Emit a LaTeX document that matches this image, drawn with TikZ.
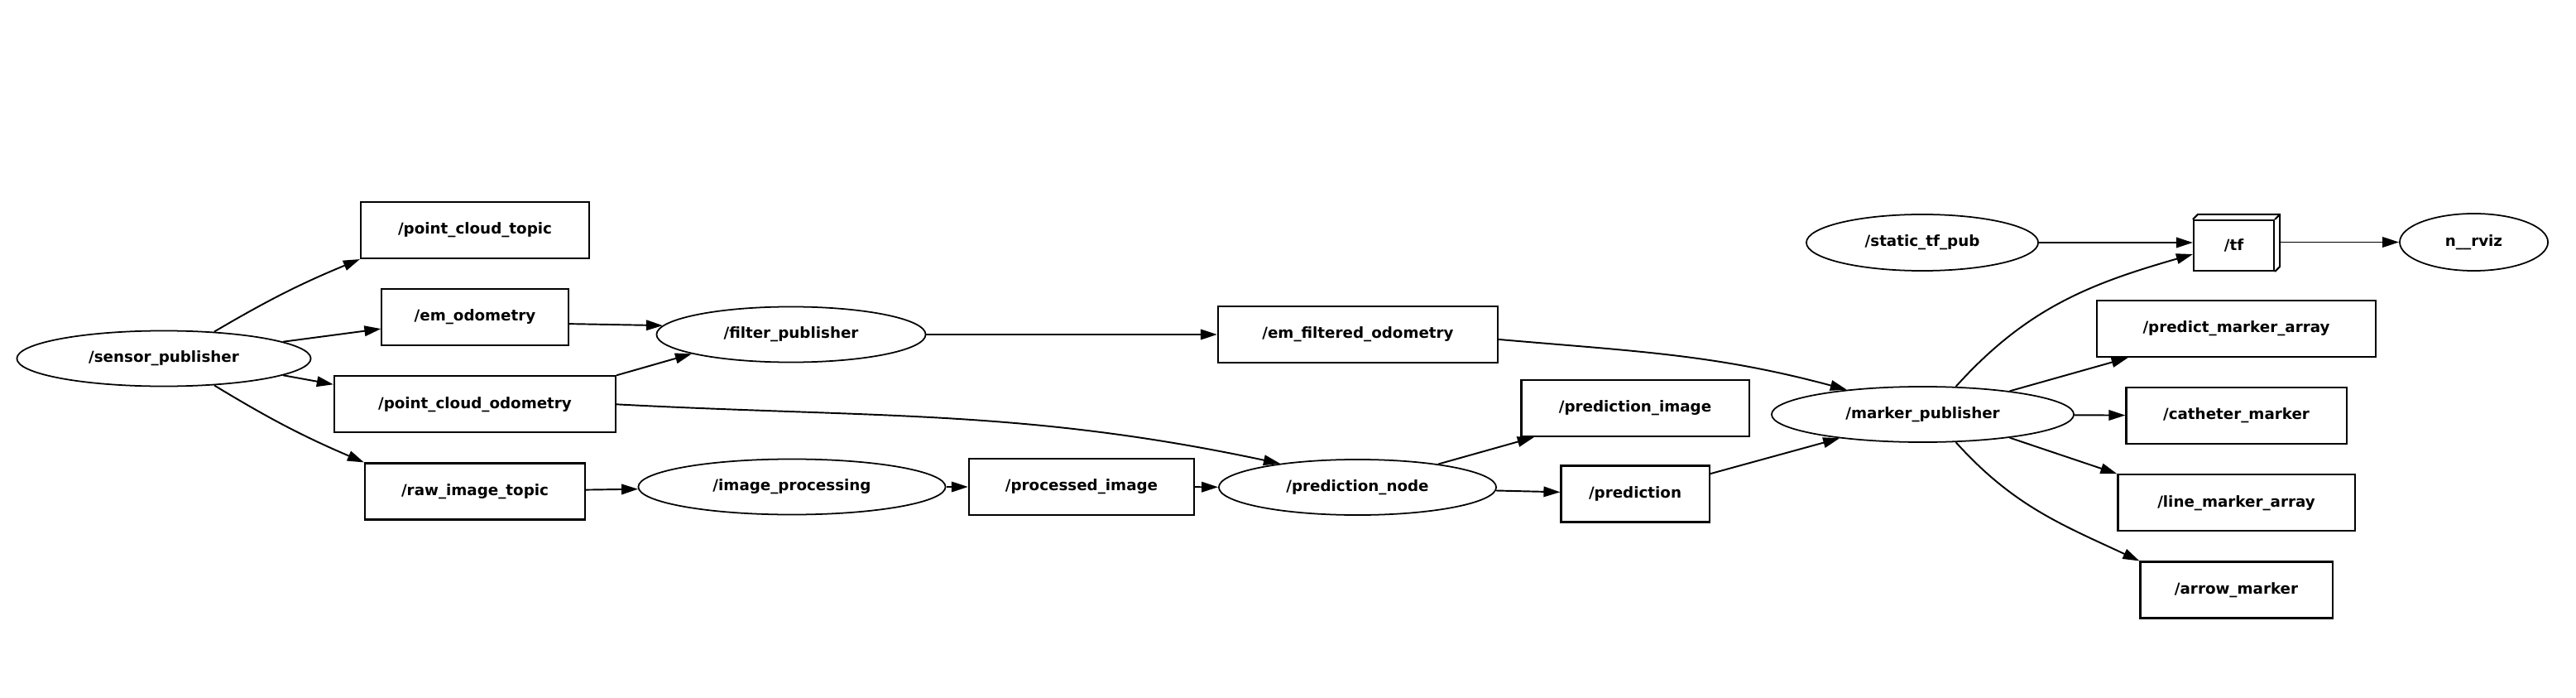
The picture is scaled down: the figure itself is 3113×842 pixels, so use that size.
\documentclass[tikz,border=0pt]{standalone}
\usepackage{fontspec}
\setmainfont{DejaVu Sans}
\usetikzlibrary{positioning,arrows.meta,shapes.geometric}

\begin{document}
\begin{tikzpicture}[
  x=0.01cm, y=0.01cm,
  font=\fontsize{5.2}{6}\selectfont\bfseries,
  node distance=3.5mm and 4mm,
  proc/.style={draw, ellipse, line width=0.5pt, inner sep=0pt,
               minimum height=6.7mm},
  topic/.style={draw, rectangle, line width=0.6pt, inner sep=0pt,
                minimum height=6.8mm},
  arr/.style={-{Triangle[length=2mm, width=1.25mm]}, line width=0.55pt}
]
\useasboundingbox (0,0) rectangle (3113,842);
% left part: sensor and its topics
\node[proc, minimum width=35.5mm] (sensor) at (198,409) {/sensor\_publisher};
\node[topic, minimum width=27.6mm] (pctopic) at (574,564) {/point\_cloud\_topic};
\node[topic, minimum width=22.5mm, below=of pctopic] (emodom) {/em\_odometry};
\node[topic, minimum width=34mm, below=of emodom] (pcodom) {/point\_cloud\_odometry};
\node[topic, minimum width=26.6mm, below=of pcodom] (rawimg) {/raw\_image\_topic};
% middle
\node[proc, minimum width=32.5mm] (filter) at (956,438) {/filter\_publisher};
\node[proc, minimum width=37.1mm] (imgproc) at (957,254) {/image\_processing};
\node[topic, minimum width=27.2mm] (procimg) at (1307,254) {/processed\_image};
\node[topic, minimum width=33.8mm] (emfilt) at (1641,438) {/em\_filtered\_odometry};
\node[proc, minimum width=33.5mm] (prednode) at (1640.5,253.5) {/prediction\_node};
\node[topic, minimum width=27.5mm] (predimg) at (1976,349) {/prediction\_image};
\node[topic, minimum width=17.9mm] (pred) at (1976,245.5) {/prediction};
% right part: markers and tf
\node[proc, minimum width=36.5mm] (marker) at (2323.5,341.5) {/marker\_publisher};
\node[proc, minimum width=28mm, minimum height=6.8mm] (statictf) at (2323,549) {/static\_tf\_pub};
\node[topic, minimum width=9.7mm, minimum height=6.1mm] (tf) at (2699.5,545.5) {/tf};
\draw[line width=0.6pt] (tf.north west) -- ++(6,6) -| ([shift={(6,6)}]tf.south east)
  -- (tf.south east);
\draw[line width=0.6pt] (tf.north east) -- ++(6,6);
\coordinate (tfr) at ([xshift=0.06cm]tf.east);
\node[proc, minimum width=17.9mm, minimum height=6.9mm] (rviz) at (2989.5,549.5) {n\_\_rviz};
\node[topic, minimum width=33.7mm] (predarr) at (2702.5,445) {/predict\_marker\_array};
\node[topic, minimum width=26.6mm, below=of predarr] (cathm) {/catheter\_marker};
\node[topic, minimum width=28.6mm, below=of cathm] (linearr) {/line\_marker\_array};
\node[topic, minimum width=23.2mm, below=of linearr] (arrowm) {/arrow\_marker};

\draw[arr] (sensor.28) to[bend left=4] (pctopic.south west);
\draw[arr] (sensor.8) -- (emodom.187);
\draw[arr] (sensor.-8) -- (pcodom.172);
\draw[arr] (sensor.-28) to[bend right=4] (rawimg.north west);
\draw[arr] (emodom.-4) -- (filter.176);
\draw[arr] (pcodom.north east) -- (filter.191);
\draw[arr] (pcodom.east) to[out=-3, in=168] (prednode.163);
\draw[arr] (rawimg) -- (imgproc);
\draw[arr] (imgproc) -- (procimg);
\draw[arr] (procimg) -- (prednode);
\draw[arr] (filter) -- (emfilt);
\draw[arr] (emfilt.-2) to[out=-5, in=165] (marker.162);
\draw[arr] (prednode.16) -- (predimg.196);
\draw[arr] (prednode) -- (pred);
\draw[arr] (pred.15) -- (marker.196);
\draw[arr] (statictf.east) -- (statictf.east -| tf.west);
\draw[arr] (tfr |- rviz.west) -- (rviz.west);
\draw[arr] (marker.40) to[out=48, in=196] (tf.192);
\draw[arr] (marker.15) -- (predarr.195);
\draw[arr] (marker) -- (cathm);
\draw[arr] (marker.-15) -- (linearr.north west);
\draw[arr] (marker.-40) to[out=-48, in=155] (arrowm.north west);
\end{tikzpicture}
\end{document}
